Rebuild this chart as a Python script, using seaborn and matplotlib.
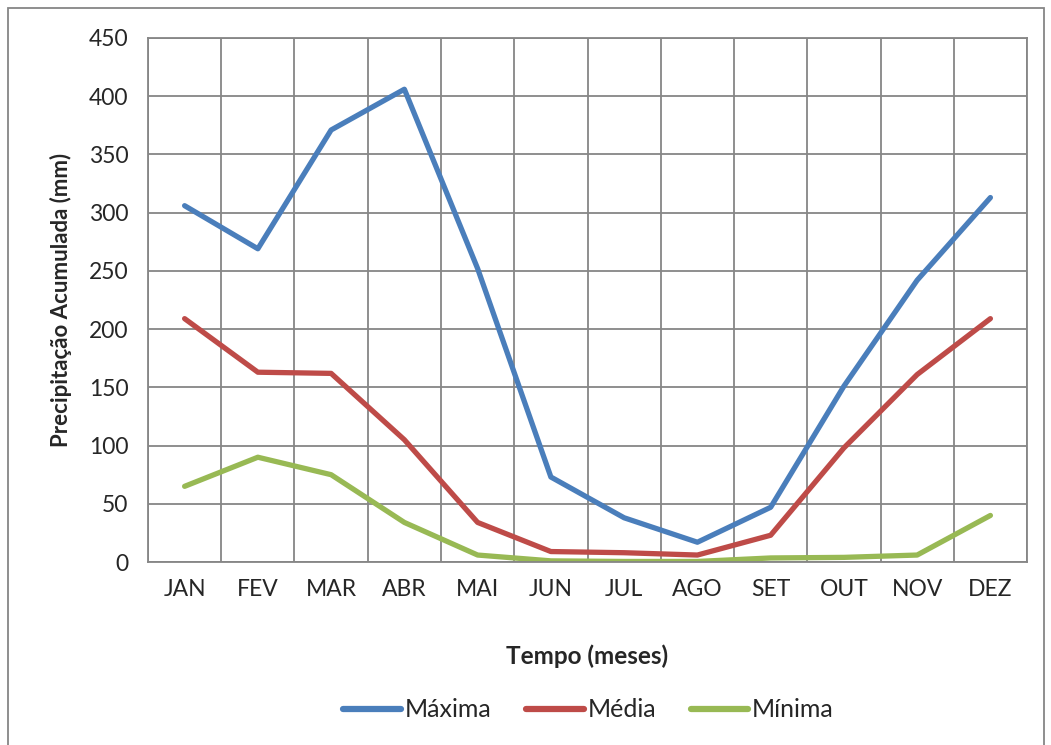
import matplotlib.pyplot as plt
import matplotlib.patches as patches
import numpy as np
import pandas as pd
import seaborn as sns

meses = ['JAN', 'FEV', 'MAR', 'ABR', 'MAI', 'JUN', 'JUL', 'AGO', 'SET', 'OUT', 'NOV', 'DEZ']
maxima = [306, 269, 371, 406, 252, 73, 38, 17, 47, 151, 242, 313]
media = [209, 163, 162, 105, 34, 9, 8, 6, 23, 98, 161, 209]
minima = [65, 90, 75, 34, 6, 1, 0.5, 0.5, 3.5, 4, 6, 40]

series = ['Máxima', 'Média', 'Mínima']
cores = ['#4A7EBB', '#BE4B48', '#98B954']

df = pd.DataFrame({
    'mes': list(range(12)) * 3,
    'valor': maxima + media + minima,
    'serie': [s for s in series for _ in range(12)],
})

sns.set_style('white')
plt.rcParams['font.family'] = ['Lato', 'DejaVu Sans']

fig = plt.figure(figsize=(10.51, 7.45), dpi=100)
ax = fig.add_axes([0.1408, 0.2456, 0.8364, 0.7034])

sns.lineplot(data=df, x='mes', y='valor', hue='serie', palette=cores,
             linewidth=3.8, ax=ax, legend=True)

ax.set_xlim(-0.5, 11.5)
ax.set_ylim(0, 450)
ax.set_yticks(np.arange(0, 451, 50))
ax.set_xticks(range(12))
ax.set_xticklabels(meses)
ax.set_xticks(np.arange(-0.5, 12, 1), minor=True)
ax.tick_params(axis='both', which='both', length=0, labelsize=16.5, pad=12)
ax.tick_params(axis='y', pad=14)

ax.grid(False)
ax.grid(True, axis='y', which='major', color='#868686', linewidth=1.3)
ax.grid(True, axis='x', which='minor', color='#868686', linewidth=1.3)
ax.set_axisbelow(True)
for s in ax.spines.values():
    s.set_color('#868686')
    s.set_linewidth(1.3)

ax.set_xlabel('Tempo (meses)', fontsize=17.5, fontweight='bold', labelpad=32)
ax.set_ylabel('Precipitação Acumulada (mm)', fontsize=16, fontweight='bold', labelpad=12)

handles, labels = ax.get_legend_handles_labels()
ax.get_legend().remove()
for h in handles:
    h.set_linewidth(4.5)
fig.legend(handles, labels, loc='center', bbox_to_anchor=(0.56, 0.047), ncol=3,
           frameon=False, fontsize=18, handlelength=2.3, handletextpad=0.15,
           columnspacing=1.4)

fig.patches.append(patches.Rectangle((8 / 1051, -0.01), 1036 / 1051, 1 - 8 / 745 + 0.01,
                                     transform=fig.transFigure, fill=False,
                                     edgecolor='#868686', linewidth=1.3))

fig.savefig('out.png', dpi=100)
